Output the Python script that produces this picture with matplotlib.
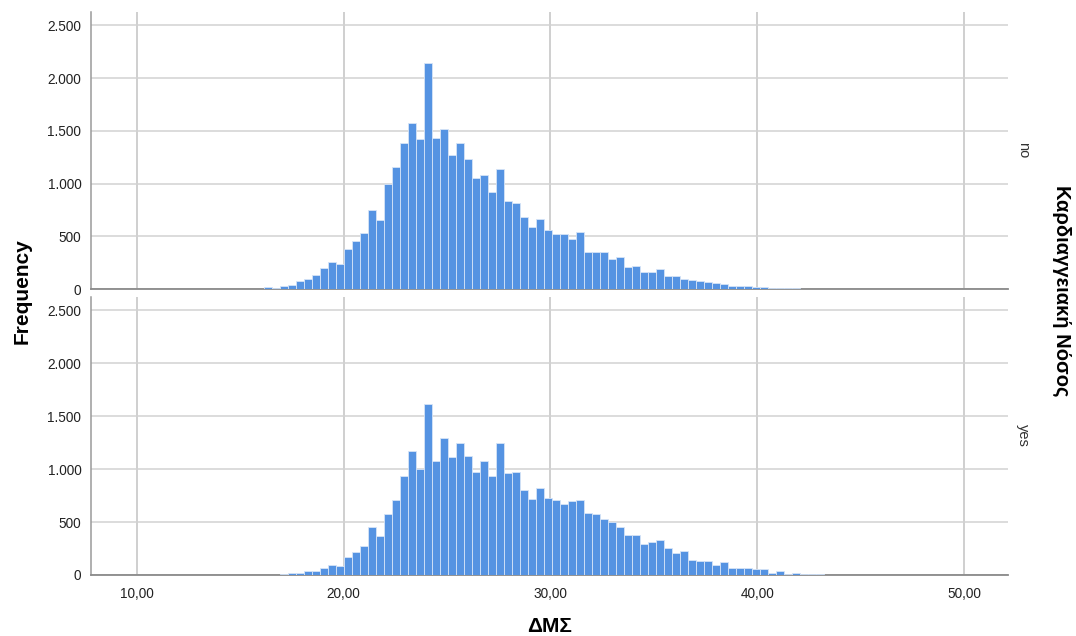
import numpy as np
import matplotlib
matplotlib.use("Agg")
import matplotlib.pyplot as plt
from matplotlib.ticker import FuncFormatter, FixedLocator

plt.rcParams['font.family'] = ['Liberation Sans', 'DejaVu Sans']

# Histogram bins (BMI), shared by both panels
bin_start = 14.585
bin_width = 0.3868

# Counts per bin for each group of "Καρδιαγγειακή Νόσος"
counts_no = [
    1, 2, 3, 4, 19, 6, 32, 41, 73, 98, 130, 203, 253, 240, 380, 452, 532, 747,
    652, 1000, 1158, 1383, 1576, 1424, 2139, 1430, 1519, 1275, 1386, 1234, 1057,
    1079, 924, 1139, 839, 816, 684, 589, 661, 563, 525, 519, 475, 544, 351, 351,
    354, 282, 300, 212, 222, 158, 158, 187, 127, 127, 98, 85, 79, 63, 54, 44, 32,
    32, 32, 22, 19, 13, 9, 9, 6, 4, 3, 2, 1, 1,
]
counts_yes = [
    0, 1, 1, 2, 2, 3, 9, 16, 22, 41, 35, 66, 98, 88, 174, 218, 271, 451, 369,
    577, 713, 931, 1170, 1003, 1618, 1079, 1297, 1111, 1246, 1120, 978, 1073,
    931, 1243, 962, 978, 801, 722, 823, 729, 710, 669, 697, 713, 590, 580, 530,
    502, 457, 382, 382, 296, 309, 328, 255, 207, 223, 143, 131, 131, 99, 124, 70,
    70, 70, 54, 54, 22, 35, 13, 19, 10, 6, 6, 3, 2,
]
panel_labels = ["no", "yes"]
x_ticks = [10, 20, 30, 40, 50]
y_ticks = [0, 500, 1000, 1500, 2000, 2500]

bar_color = "#5593e2"
edge_color = "#d6e4f7"
hgrid_color = "#d2d2d2"
vgrid_color = "#c2c2c2"

fig = plt.figure(figsize=(10.76, 6.36), dpi=100)
left, right = 91 / 1076, 1008 / 1076
ax_top = fig.add_axes([left, 1 - 289 / 636, right - left, (289 - 11.7) / 636])
ax_bot = fig.add_axes([left, 1 - 575 / 636, right - left, (575 - 296.7) / 636])

edges = bin_start + bin_width * np.arange(len(counts_no))

eu_int = FuncFormatter(lambda v, p: f"{int(round(v)):,}".replace(",", "."))
eu_dec = FuncFormatter(lambda v, p: f"{v:.2f}".replace(".", ","))

for ax, counts, lab in [(ax_top, counts_no, panel_labels[0]),
                        (ax_bot, counts_yes, panel_labels[1])]:
    ax.bar(edges, counts, width=bin_width, align="edge", color=bar_color,
           edgecolor=edge_color, linewidth=0.6, zorder=3)
    ax.set_xlim(7.775, 52.13)
    ax.set_ylim(0, 2630)
    ax.xaxis.set_major_locator(FixedLocator(x_ticks))
    ax.yaxis.set_major_locator(FixedLocator(y_ticks))
    ax.yaxis.set_major_formatter(eu_int)
    ax.xaxis.set_major_formatter(eu_dec)
    ax.grid(True, axis="y", color=hgrid_color, linewidth=1.1, zorder=0)
    ax.grid(True, axis="x", color=vgrid_color, linewidth=1.1, zorder=0)
    ax.set_axisbelow(True)
    for s in ("top", "right"):
        ax.spines[s].set_visible(False)
    ax.spines["left"].set_color("#9a9a9a")
    ax.spines["bottom"].set_color("#8a8a8a")
    ax.spines["left"].set_linewidth(1.1)
    ax.spines["bottom"].set_linewidth(1.3)
    ax.tick_params(axis="y", length=0, pad=7, labelsize=9.8, labelcolor="#222222")
    ax.tick_params(axis="x", length=0, pad=9, labelsize=9.8, labelcolor="#222222")
    ax.set_facecolor("white")
    ax.text(1.009, 0.5, lab, transform=ax.transAxes, rotation=-90,
            ha="left", va="center", fontsize=10.5, color="#333333")

ax_top.tick_params(axis="x", labelbottom=False)

fig.text(22 / 1076, 1 - 291 / 636, "Frequency", rotation=90, ha="center",
         va="center", fontsize=15, fontweight="bold")
fig.text(550 / 1076, 1 - 627 / 636, "ΔΜΣ", ha="center", va="center",
         fontsize=15, fontweight="bold")
fig.text(1062 / 1076, 1 - 291 / 636, "Καρδιαγγειακή Νόσος", rotation=-90,
         ha="center", va="center", fontsize=14.5, fontweight="bold")

fig.savefig("out.png", dpi=100)
